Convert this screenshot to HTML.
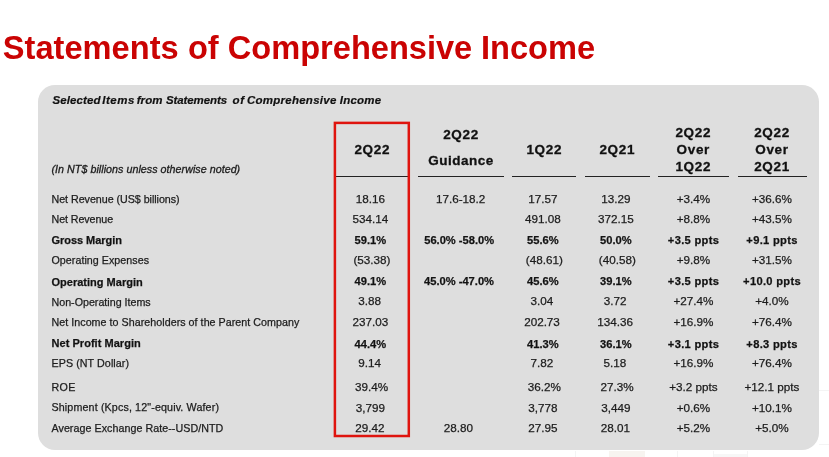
<!DOCTYPE html>
<html lang="en">
<head>
<meta charset="utf-8">
<title>Statements of Comprehensive Income</title>
<style>
html,body{margin:0;padding:0;}
body{width:829px;height:457px;position:relative;overflow:hidden;background:#fff;
  font-family:"Liberation Sans",sans-serif;color:#1c1c1c;}
#wrap{position:absolute;left:0;top:0;width:829px;height:457px;will-change:transform;}
#title{position:absolute;left:0;top:29px;margin:0;font-size:32.6px;line-height:38px;height:38px;font-weight:bold;
  color:#ca0303;white-space:nowrap;}
#title span{position:absolute;top:0;}
#panel{position:absolute;left:37.5px;top:85px;width:781.3px;height:365.2px;background:#dedede;border-radius:17px;}
#redbox{position:absolute;left:0;top:0;}
.t{position:absolute;white-space:nowrap;font-size:10.7px;line-height:14px;height:14px;-webkit-text-stroke:0.25px #1c1c1c;}
.n{font-size:11.7px;}
.b{font-weight:bold;font-size:11.15px;color:#111;}
.f{position:absolute;background:#f4f4f4;}
.lb{font-size:11px;}
.w{letter-spacing:0.3px;}
.c{text-align:center;width:120px;margin-left:-60px;}
.h{position:absolute;white-space:nowrap;font-weight:bold;font-size:13.5px;letter-spacing:0.68px;line-height:17px;
  text-align:center;width:120px;margin-left:-60px;color:#111;-webkit-text-stroke:0.3px #111;}
.u{position:absolute;top:176px;height:1px;background:#222;}
#sub{position:absolute;left:0;top:93px;height:14px;font-size:11.5px;line-height:14px;font-weight:bold;font-style:italic;white-space:nowrap;color:#111;-webkit-text-stroke:0.2px #111;}
#sub span{position:absolute;top:0;}
#note{position:absolute;left:51.5px;top:162px;letter-spacing:0.04px;font-size:10.7px;line-height:14px;font-style:italic;white-space:nowrap;-webkit-text-stroke:0.3px #1c1c1c;}
</style>
</head>
<body>
<div id="wrap">
<h1 id="title"><span style="left:2.8px;letter-spacing:0.03px">Statements </span><span style="left:187.9px">of </span><span style="left:227.8px">Comprehensive </span><span style="left:481px">Income</span></h1>
<div class="f" style="left:575px;top:451px;width:1px;height:6px"></div><div class="f" style="left:677px;top:451px;width:1px;height:6px"></div><div class="f" style="left:713px;top:451px;width:1px;height:6px"></div><div class="f" style="left:747px;top:451px;width:1px;height:6px"></div><div class="f" style="left:609px;top:451px;width:36px;height:6px;background:#f7f4f0"></div><div class="f" style="left:714px;top:454px;width:33px;height:3px;background:#f7f7f7"></div><div class="f" style="left:819px;top:390px;width:10px;height:1px"></div><div class="f" style="left:819px;top:444px;width:10px;height:1px"></div>
<div id="panel"></div>
<div id="sub"><span style="left:52.4px;letter-spacing:0.12px">Selected </span><span style="left:102.2px;letter-spacing:0.55px">Items </span><span style="left:136.7px;letter-spacing:0.1px">from </span><span style="left:166px;letter-spacing:-0.1px">Statements </span><span style="left:232.5px;letter-spacing:0.8px">of </span><span style="left:247px;letter-spacing:0.25px">Comprehensive </span><span style="left:339.8px;letter-spacing:0.2px">Income</span></div>
<div id="note">(In NT$ billions unless otherwise noted)</div>
<div class="h" style="left:372.3px;top:141px">2Q22</div>
<div class="h" style="left:461.0px;top:126px">2Q22</div>
<div class="h" style="left:461.0px;top:152px;letter-spacing:0.5px">Guidance</div>
<div class="h" style="left:544.3px;top:141px">1Q22</div>
<div class="h" style="left:617.3px;top:141px">2Q21</div>
<div class="h" style="left:693.3px;top:124px">2Q22<br>Over<br>1Q22</div>
<div class="h" style="left:772.0px;top:124px">2Q22<br>Over<br>2Q21</div>
<div class="u" style="left:336px;width:72px"></div>
<div class="u" style="left:418px;width:86px"></div>
<div class="u" style="left:512px;width:64px"></div>
<div class="u" style="left:585px;width:65px"></div>
<div class="u" style="left:658px;width:71px"></div>
<div class="u" style="left:738px;width:69px"></div>
<svg id="redbox" width="829" height="457" viewBox="0 0 829 457"><rect x="334.9" y="122.9" width="73.9" height="313.1" fill="none" stroke="#df140e" stroke-width="2.5"/></svg>
<div class="t" style="left:51.5px;top:192px;letter-spacing:-0.03px">Net Revenue (US$ billions)</div>
<div class="t c n" style="left:370.4px;top:192px">18.16</div>
<div class="t c n" style="left:460.6px;top:192px">17.6-18.2</div>
<div class="t c n" style="left:542.8px;top:192px">17.57</div>
<div class="t c n" style="left:615.8px;top:192px">13.29</div>
<div class="t c n" style="left:693.5px;top:192px">+3.4%</div>
<div class="t c n" style="left:772.0px;top:192px">+36.6%</div>
<div class="t" style="left:51.5px;top:212px;letter-spacing:-0.08px">Net Revenue</div>
<div class="t c n" style="left:370.4px;top:212px">534.14</div>
<div class="t c n" style="left:542.8px;top:212px">491.08</div>
<div class="t c n" style="left:615.8px;top:212px">372.15</div>
<div class="t c n" style="left:693.5px;top:212px">+8.8%</div>
<div class="t c n" style="left:772.0px;top:212px">+43.5%</div>
<div class="t b lb" style="left:51.5px;top:233px;letter-spacing:-0.05px">Gross Margin</div>
<div class="t c b" style="left:370.4px;top:233px">59.1%</div>
<div class="t c b" style="left:459.2px;top:233px">56.0% -58.0%</div>
<div class="t c b" style="left:542.8px;top:233px">55.6%</div>
<div class="t c b" style="left:615.8px;top:233px">50.0%</div>
<div class="t c b w" style="left:693.5px;top:233px">+3.5 ppts</div>
<div class="t c b w" style="left:772.0px;top:233px">+9.1 ppts</div>
<div class="t" style="left:51.5px;top:253px;letter-spacing:0.04px">Operating Expenses</div>
<div class="t c n" style="left:372.0px;top:253px">(53.38)</div>
<div class="t c n" style="left:544.4px;top:253px">(48.61)</div>
<div class="t c n" style="left:617.4px;top:253px">(40.58)</div>
<div class="t c n" style="left:693.5px;top:253px">+9.8%</div>
<div class="t c n" style="left:772.0px;top:253px">+31.5%</div>
<div class="t b lb" style="left:51.5px;top:275px;letter-spacing:0.01px">Operating Margin</div>
<div class="t c b" style="left:370.4px;top:274px">49.1%</div>
<div class="t c b" style="left:459.0px;top:274px">45.0% -47.0%</div>
<div class="t c b" style="left:542.8px;top:274px">45.6%</div>
<div class="t c b" style="left:615.8px;top:274px">39.1%</div>
<div class="t c b w" style="left:693.5px;top:274px">+3.5 ppts</div>
<div class="t c b w" style="left:772.0px;top:274px">+10.0 ppts</div>
<div class="t" style="left:51.5px;top:295px">Non-Operating Items</div>
<div class="t c n" style="left:369.6px;top:294px">3.88</div>
<div class="t c n" style="left:541.8px;top:294px">3.04</div>
<div class="t c n" style="left:615.1px;top:294px">3.72</div>
<div class="t c n" style="left:693.5px;top:294px">+27.4%</div>
<div class="t c n" style="left:772.0px;top:294px">+4.0%</div>
<div class="t" style="left:51.5px;top:315px;letter-spacing:0.04px">Net Income to Shareholders of the Parent Company</div>
<div class="t c n" style="left:370.4px;top:315px">237.03</div>
<div class="t c n" style="left:542.0px;top:315px">202.73</div>
<div class="t c n" style="left:615.2px;top:315px">134.36</div>
<div class="t c n" style="left:693.5px;top:315px">+16.9%</div>
<div class="t c n" style="left:772.0px;top:315px">+76.4%</div>
<div class="t b lb" style="left:51.5px;top:336px;letter-spacing:0.04px">Net Profit Margin</div>
<div class="t c b" style="left:370.4px;top:337px">44.4%</div>
<div class="t c b" style="left:542.8px;top:337px">41.3%</div>
<div class="t c b" style="left:615.8px;top:337px">36.1%</div>
<div class="t c b w" style="left:693.5px;top:337px">+3.1 ppts</div>
<div class="t c b w" style="left:772.0px;top:337px">+8.3 ppts</div>
<div class="t" style="left:51.5px;top:356px;letter-spacing:0.08px">EPS (NT Dollar)</div>
<div class="t c n" style="left:369.7px;top:356px">9.14</div>
<div class="t c n" style="left:541.9px;top:356px">7.82</div>
<div class="t c n" style="left:614.8px;top:356px">5.18</div>
<div class="t c n" style="left:693.5px;top:356px">+16.9%</div>
<div class="t c n" style="left:772.0px;top:356px">+76.4%</div>
<div class="t" style="left:51.5px;top:380px;letter-spacing:0.40px">ROE</div>
<div class="t c n" style="left:371.7px;top:380px">39.4%</div>
<div class="t c n" style="left:544.4px;top:380px">36.2%</div>
<div class="t c n" style="left:617.1px;top:380px">27.3%</div>
<div class="t c n" style="left:693.5px;top:380px">+3.2 ppts</div>
<div class="t c n" style="left:772.0px;top:380px">+12.1 ppts</div>
<div class="t" style="left:51.5px;top:400px;letter-spacing:0.14px">Shipment (Kpcs, 12&quot;-equiv. Wafer)</div>
<div class="t c n" style="left:370.4px;top:401px">3,799</div>
<div class="t c n" style="left:542.8px;top:401px">3,778</div>
<div class="t c n" style="left:615.8px;top:401px">3,449</div>
<div class="t c n" style="left:693.5px;top:401px">+0.6%</div>
<div class="t c n" style="left:772.0px;top:401px">+10.1%</div>
<div class="t" style="left:51.5px;top:421px;letter-spacing:0.05px">Average Exchange Rate--USD/NTD</div>
<div class="t c n" style="left:369.9px;top:421px">29.42</div>
<div class="t c n" style="left:458.3px;top:421px">28.80</div>
<div class="t c n" style="left:542.8px;top:421px">27.95</div>
<div class="t c n" style="left:615.3px;top:421px">28.01</div>
<div class="t c n" style="left:693.5px;top:421px">+5.2%</div>
<div class="t c n" style="left:772.0px;top:421px">+5.0%</div>
</div>
</body>
</html>
